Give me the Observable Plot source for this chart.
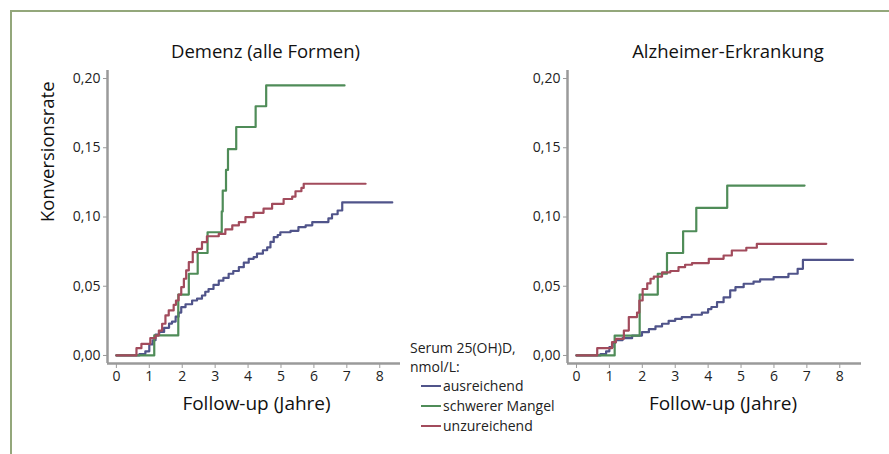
<!DOCTYPE html>
<html>
<head>
<meta charset="utf-8">
<script src="https://cdn.jsdelivr.net/npm/d3@7"></script>
<script src="https://cdn.jsdelivr.net/npm/@observablehq/plot@0.6"></script>
<style>
  html, body { margin: 0; padding: 0; background: #fff; }
  #wrap { position: relative; width: 889px; height: 454px; overflow: hidden; font-family: "Open Sans", sans-serif; color: #222; }
  #frame { position: absolute; left: 10px; top: 10px; width: 900px; height: 460px; border-top: 2px solid #93a77b; border-left: 2px solid #93a77b; }
  .plot { position: absolute; left: 0; top: 0; }
  #legend { position: absolute; left: 410px; top: 338px; font-size: 14px; line-height: 19px; color: #222; }
  #legend .row { position: relative; padding-left: 33px; white-space: nowrap; }
  #legend .sw { position: absolute; left: 11px; top: 9px; width: 20px; height: 2px; }
</style>
</head>
<body>
<div id="wrap">
  <div id="frame"></div>
  <div id="legend"></div>
</div>
<script>
// ---- Data ----
const groups = ["ausreichend", "schwerer Mangel", "unzureichend"];
const groupColors = ["#50548a", "#4f8c58", "#a24b5c"];
const panelTitles = ["Demenz (alle Formen)", "Alzheimer-Erkrankung"];
const xTicks = [0, 1, 2, 3, 4, 5, 6, 7, 8];
const yTicks = [0, 0.05, 0.10, 0.15, 0.20];
const xLabel = "Follow-up (Jahre)";
const yLabel = "Konversionsrate";
const legendTitle = ["Serum 25(OH)D,", "nmol/L:"];

// Demenz (alle Formen)
const demenz_ausreichend_t = [0, 0.7, 0.88, 1.0, 1.1, 1.19, 1.3, 1.45, 1.6, 1.69, 1.8, 1.89, 1.97, 2.1, 2.3, 2.45, 2.6, 2.7, 2.8, 2.95, 3.11, 3.25, 3.41, 3.55, 3.72, 3.87, 4.02, 4.17, 4.27, 4.45, 4.58, 4.68, 4.78, 4.9, 4.98, 5.29, 5.53, 5.75, 5.95, 6.44, 6.55, 6.72, 6.86, 8.38];
const demenz_ausreichend_v = [0, 0.001, 0.003, 0.008, 0.011, 0.015, 0.017, 0.02, 0.023, 0.0245, 0.028, 0.031, 0.0349, 0.037, 0.0397, 0.041, 0.0433, 0.046, 0.048, 0.051, 0.054, 0.056, 0.059, 0.061, 0.0638, 0.067, 0.0698, 0.071, 0.0735, 0.076, 0.078, 0.082, 0.0855, 0.087, 0.089, 0.090, 0.0927, 0.094, 0.0963, 0.099, 0.102, 0.1047, 0.1105, 0.1105];
const demenz_schwer_t = [0, 1.15, 1.88, 2.2, 2.47, 2.77, 3.2, 3.23, 3.33, 3.39, 3.64, 4.23, 4.55, 6.93];
const demenz_schwer_v = [0, 0.0145, 0.044, 0.059, 0.074, 0.089, 0.104, 0.119, 0.134, 0.149, 0.165, 0.18, 0.195, 0.195];
const demenz_unzureichend_t = [0, 0.61, 0.76, 1.03, 1.19, 1.29, 1.39, 1.49, 1.59, 1.74, 1.81, 1.89, 1.97, 2.05, 2.12, 2.2, 2.32, 2.45, 2.6, 2.75, 3.11, 3.31, 3.52, 3.72, 3.92, 4.17, 4.47, 4.73, 5.08, 5.34, 5.44, 5.62, 5.69, 7.57];
const demenz_unzureichend_v = [0, 0.0053, 0.0084, 0.0125, 0.0144, 0.018, 0.0229, 0.0289, 0.0325, 0.0366, 0.0397, 0.044, 0.0493, 0.0554, 0.0614, 0.0674, 0.0746, 0.077, 0.0818, 0.0861, 0.0878, 0.091, 0.0939, 0.0963, 0.0999, 0.103, 0.106, 0.1095, 0.113, 0.1147, 0.1186, 0.121, 0.124, 0.124];

// Alzheimer-Erkrankung
const alz_ausreichend_t = [0, 0.73, 0.9, 1.0, 1.1, 1.18, 1.4, 1.69, 1.99, 2.2, 2.4, 2.6, 2.8, 3.0, 3.2, 3.5, 3.81, 4.0, 4.1, 4.27, 4.47, 4.67, 4.83, 5.08, 5.38, 5.58, 5.99, 6.44, 6.72, 6.88, 8.4];
const alz_ausreichend_v = [0, 0.001, 0.003, 0.006, 0.009, 0.011, 0.0125, 0.0144, 0.0168, 0.019, 0.021, 0.0229, 0.025, 0.0265, 0.0277, 0.0294, 0.031, 0.0335, 0.035, 0.0385, 0.042, 0.047, 0.0493, 0.0518, 0.0534, 0.0549, 0.0566, 0.059, 0.0626, 0.069, 0.069];
const alz_schwer_t = [0, 1.16, 1.92, 2.47, 2.75, 3.24, 3.64, 4.58, 6.93];
const alz_schwer_v = [0, 0.0144, 0.044, 0.059, 0.074, 0.0897, 0.1066, 0.1227, 0.1227];
const alz_unzureichend_t = [0, 0.63, 1.08, 1.2, 1.44, 1.59, 1.84, 1.91, 2.01, 2.15, 2.25, 2.35, 2.6, 2.85, 3.1, 3.3, 3.51, 4.02, 4.47, 4.72, 5.16, 5.48, 7.59];
const alz_unzureichend_v = [0, 0.0053, 0.0096, 0.012, 0.018, 0.0277, 0.031, 0.0397, 0.048, 0.052, 0.0554, 0.057, 0.06, 0.061, 0.0638, 0.0655, 0.0667, 0.0698, 0.0722, 0.0758, 0.0778, 0.0806, 0.0806];

// ---- Build tables ----
function rows(t, v, group) { return t.map((x, i) => ({ t: x, v: v[i], group })); }
const demenzData = [
  ...rows(demenz_ausreichend_t, demenz_ausreichend_v, groups[0]),
  ...rows(demenz_schwer_t, demenz_schwer_v, groups[1]),
  ...rows(demenz_unzureichend_t, demenz_unzureichend_v, groups[2])
];
const alzData = [
  ...rows(alz_ausreichend_t, alz_ausreichend_v, groups[0]),
  ...rows(alz_schwer_t, alz_schwer_v, groups[1]),
  ...rows(alz_unzureichend_t, alz_unzureichend_v, groups[2])
];

const fmt = d => d.toFixed(2).replace(".", ",");
const axisGray = "#9a9a9a";
const W = 889, H = 454;

function panel(data, title, mLeft, mRight, xDomain, titleDx, xLabDx) {
  const yDomain = [-0.0058, 0.2058];
  return Plot.plot({
    width: W, height: H,
    marginLeft: mLeft, marginRight: mRight, marginTop: 70, marginBottom: 91,
    style: { fontFamily: "Open Sans, sans-serif", fontSize: "14px", color: "#222", background: "transparent", overflow: "visible" },
    x: { domain: xDomain },
    y: { domain: yDomain },
    color: { domain: groups, range: groupColors },
    marks: [
      Plot.axisX({ ticks: xTicks, tickFormat: d => String(d), tickSize: 5, tickPadding: 3, stroke: axisGray, fill: "#222", fontSize: 14, label: null }),
      Plot.axisY({ ticks: yTicks, tickFormat: fmt, tickSize: 4, tickPadding: 3, stroke: axisGray, fill: "#222", fontSize: 14, label: null }),
      Plot.ruleX([xDomain[0]], { stroke: axisGray, strokeWidth: 2.5 }),
      Plot.ruleY([yDomain[0]], { stroke: axisGray, strokeWidth: 2.5 }),
      Plot.line(data, { x: "t", y: "v", z: "group", stroke: "group", strokeWidth: 2.2, curve: "step-after" }),
      Plot.text([title], { frameAnchor: "top", dx: titleDx, dy: -18, fontSize: 18.5, lineAnchor: "middle", fill: "#111" }),
      Plot.text([xLabel], { frameAnchor: "bottom", dx: xLabDx, dy: 40, fontSize: 19, lineAnchor: "middle", fill: "#111" }),
      ...(mLeft < 200 ? [Plot.text([yLabel], { frameAnchor: "left", dx: -59, dy: 5, rotate: -90, fontSize: 18.5, lineAnchor: "middle", fill: "#111" })] : [])
    ]
  });
}

const wrap = document.getElementById("wrap");
const p1 = panel(demenzData, panelTitles[0], 107, W - 400, [-0.27, 8.63], 11.5, 2.5);
const p2 = panel(alzData, panelTitles[1], 567, W - 861, [-0.273, 8.66], 13.5, 8.5);
p1.classList.add("plot"); p2.classList.add("plot");
wrap.appendChild(p1); wrap.appendChild(p2);

// Legend
const legend = document.getElementById("legend");
legendTitle.forEach(s => { const d = document.createElement("div"); d.textContent = s; legend.appendChild(d); });
groups.forEach((g, i) => {
  const r = document.createElement("div"); r.className = "row";
  if (i > 0) r.style.marginTop = "1px";
  const sw = document.createElement("span"); sw.className = "sw"; sw.style.background = groupColors[i];
  r.appendChild(sw); r.appendChild(document.createTextNode(g));
  legend.appendChild(r);
});
wrap.appendChild(legend);
</script>
</body>
</html>
